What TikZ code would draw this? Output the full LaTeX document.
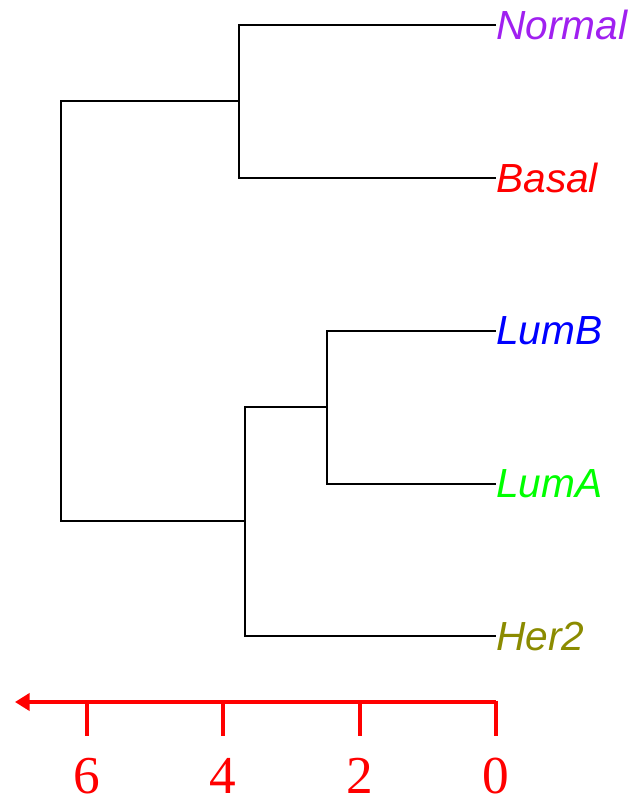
\documentclass[tikz,border=0pt]{standalone}
\usepackage{fontspec}
\setmainfont{Liberation Serif}
\setsansfont{Liberation Sans}
\usetikzlibrary{arrows.meta}

\definecolor{normalc}{RGB}{160,32,240}
\definecolor{basalc}{RGB}{255,0,0}
\definecolor{lumbc}{RGB}{0,0,255}
\definecolor{lumac}{RGB}{0,255,0}
\definecolor{her2c}{RGB}{139,139,0}

\tikzset{
  branch/.style={draw=black, line width=0.8pt},
  leaf/.style={anchor=west, inner sep=0pt, font=\fontsize{30.5}{30}\selectfont\sffamily\itshape},
  axisline/.style={draw=red, line width=2.4pt},
  ticklab/.style={text=red, inner sep=0pt, font=\fontsize{40}{40}\selectfont}
}

\begin{document}
\begin{tikzpicture}[x=0.75pt,y=-0.75pt]
\useasboundingbox (0,0) rectangle (643,799);

% leaves
\node[leaf, text=normalc] (Normal) at (496,25)  {Normal};
\node[leaf, text=basalc]  (Basal)  at (496,178) {Basal};
\node[leaf, text=lumbc]   (LumB)   at (496,331) {LumB};
\node[leaf, text=lumac]   (LumA)   at (496,484) {LumA};
\node[leaf, text=her2c]   (Her2)   at (496,636) {Her2};

% merge points
\coordinate (nb)   at (239,101);
\coordinate (lum)  at (327,407);
\coordinate (lumh) at (245,521);
\coordinate (root) at (61,311);

\draw[branch] (Normal.west) -| (nb) |- (Basal.west);
\draw[branch] (LumB.west) -| (lum) |- (LumA.west);
\draw[branch] (lum) -| (lumh) |- (Her2.west);
\draw[branch] (nb) -| (root) |- (lumh);

% height scale
\coordinate (axend) at (15,702);
\foreach \v/\x in {0/496,2/360,4/223,6/87}{
  \coordinate (t\v) at (\x,700.5);
  \node[ticklab, anchor=base] (lab\v) at (\x,793) {\v};
  \draw[axisline] (t\v) -- ++(0,35);
}
\draw[axisline, -{Triangle[length=11pt,width=13pt]}] (t0 |- axend) -- (axend);
\end{tikzpicture}
\end{document}
